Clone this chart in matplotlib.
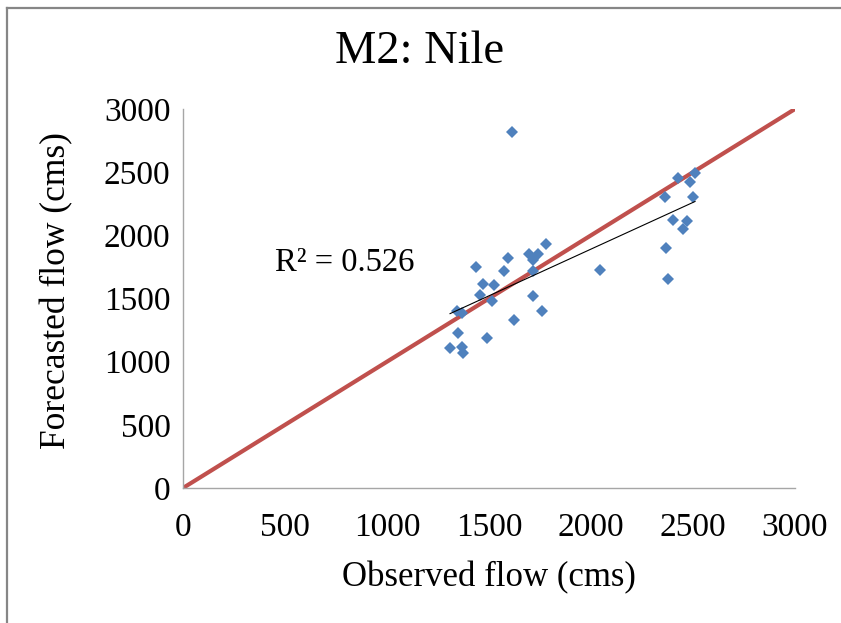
import numpy as np
import matplotlib
matplotlib.use("Agg")
import matplotlib.pyplot as plt
from matplotlib.lines import Line2D

# Observed vs forecasted flow (cms), model M2 on the Nile
observed = [1611, 1779, 1698, 1742, 1717, 1592, 1436, 1574, 1717, 2044,
            1472, 1525, 1456, 1513, 1714, 1758, 1341, 1366, 1623, 1350,
            1489, 1309, 1366, 1374,
            2510, 2428, 2485, 2363, 2498, 2400, 2469, 2449, 2368, 2379]
forecasted = [2821, 1932, 1853, 1853, 1805, 1818, 1747, 1721, 1721, 1726,
              1615, 1607, 1528, 1481, 1520, 1401, 1401, 1388, 1330, 1230,
              1190, 1106, 1114, 1071,
              2497, 2452, 2425, 2306, 2302, 2122, 2114, 2048, 1898, 1652]
r2_text = "R² = 0.526"

ticks = [0, 500, 1000, 1500, 2000, 2500, 3000]

plt.rcParams["font.family"] = ["Liberation Serif", "DejaVu Serif"]

fig = plt.figure(figsize=(8.41, 6.23), dpi=100)
fig.patch.set_facecolor("white")

# chart-area frame (top and left edges inside the image)
fx, fy = 7 / 841, 1 - 8 / 623
for xd, yd in (([fx, 1.05], [fy, fy]), ([fx, fx], [fy, -0.05])):
    fig.lines.append(Line2D(xd, yd, transform=fig.transFigure,
                            color="#868686", linewidth=1.6))

ax = fig.add_axes([183 / 841, 1 - 488 / 623, (795 - 183) / 841, (488 - 109) / 623])

# 1:1 reference line
ax.plot([0, 3000], [0, 3000], color="#C0504D", linewidth=3.0,
        solid_capstyle="round", zorder=2)

# observations
ax.plot(observed, forecasted, linestyle="none", marker="D", markersize=6.4,
        color="#4F81BD", markeredgewidth=0, zorder=3)

# linear trend line
obs = np.array(observed, dtype=float)
fc = np.array(forecasted, dtype=float)
slope, intercept = np.polyfit(obs, fc, 1)
xs = np.array([obs.min(), obs.max()])
ax.plot(xs, slope * xs + intercept, color="black", linewidth=0.8, zorder=4)

fig.text(275 / 841, 1 - 263 / 623, r2_text, fontsize=23.5, ha="left", va="center")

ax.set_xlim(0, 3000)
ax.set_ylim(0, 3000)
ax.set_xticks(ticks)
ax.set_yticks(ticks)
ax.tick_params(axis="both", length=0, labelsize=24)
ax.tick_params(axis="x", pad=18)
ax.tick_params(axis="y", pad=9)

for side in ("top", "right"):
    ax.spines[side].set_visible(False)
for side in ("left", "bottom"):
    ax.spines[side].set_color("#A6A6A6")
    ax.spines[side].set_linewidth(1.0)

ax.set_xlabel("Observed flow (cms)", fontsize=25, labelpad=13)
ax.set_ylabel("Forecasted flow (cms)", fontsize=25.5, labelpad=22)
ax.yaxis.label.set_y(0.522)
fig.text(420 / 841, 1 - 52 / 623, "M2: Nile", fontsize=33.5, ha="center", va="center")

fig.savefig("out.png", dpi=100, facecolor="white")
